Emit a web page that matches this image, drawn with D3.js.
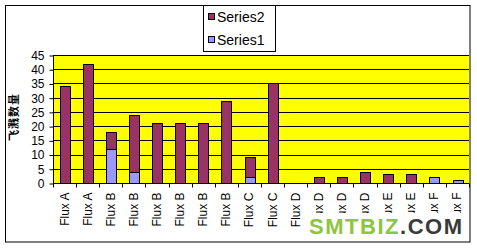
<!DOCTYPE html>
<html>
<head>
<meta charset="utf-8">
<script src="https://cdn.jsdelivr.net/npm/d3@7"></script>
<style>
  body { margin: 0; background: #fff; }
  svg { display: block; font-family: "Liberation Sans", Arial, sans-serif; }
</style>
</head>
<body>
<svg id="chart" width="477" height="249"></svg>
<script>
// chart data
const categories = ['Flux A', 'Flux A', 'Flux B', 'Flux B', 'Flux B', 'Flux B', 'Flux B', 'Flux B',
  'Flux C', 'Flux C', 'Flux D', 'Flux D', 'Flux D', 'Flux D', 'Flux E', 'Flux E', 'Flux F', 'Flux F'];
const series1 = [0, 0, 12, 4, 0, 0, 0, 0, 2, 0, 0, 0, 0, 0, 0, 0, 2, 1];
const series2 = [34, 42, 6, 20, 21, 21, 21, 29, 7, 35, 0, 2, 2, 4, 3, 3, 0, 0];
const yTicks = [0, 5, 10, 15, 20, 25, 30, 35, 40, 45];

const svg = d3.select('#chart');
const plotL = 53, plotR = 469, plotT = 55, plotB = 183;

const x = d3.scaleBand().domain(d3.range(categories.length)).range([plotL, plotR]).padding(0);
const y = d3.scaleLinear().domain([0, 45]).range([plotB, plotT]);
const barW = x.bandwidth() * 0.42;

// outer frame
svg.append('rect')
    .attr('x', 5.5).attr('y', 5.5).attr('width', 464.5).attr('height', 236.5)
    .style('fill', '#fff').style('stroke', '#000');

// plot area
svg.append('rect')
    .attr('x', plotL).attr('y', plotT).attr('width', plotR - plotL).attr('height', plotB - plotT)
    .style('fill', '#ffff00');

svg.selectAll('.grid').data(yTicks.filter(d => d > 0)).enter().append('line')
    .attr('class', 'grid')
    .attr('x1', plotL).attr('x2', plotR)
    .attr('y1', d => Math.round(y(d)) + 0.5).attr('y2', d => Math.round(y(d)) + 0.5)
    .style('stroke', '#000');

// stacked bars, Series1 at the bottom
const stacks = categories.map((c, i) => ({i: i, s1: series1[i], s2: series2[i]}));

svg.selectAll('.s1').data(stacks.filter(d => d.s1 > 0)).enter().append('rect')
    .attr('class', 's1')
    .attr('x', d => Math.round(x(d.i) + (x.bandwidth() - barW) / 2) + 0.5)
    .attr('y', d => Math.round(y(d.s1)) + 0.5)
    .attr('width', Math.round(barW))
    .attr('height', d => Math.round(y(0)) - Math.round(y(d.s1)))
    .style('fill', '#9999ff').style('stroke', '#000');

svg.selectAll('.s2').data(stacks.filter(d => d.s2 > 0)).enter().append('rect')
    .attr('class', 's2')
    .attr('x', d => Math.round(x(d.i) + (x.bandwidth() - barW) / 2) + 0.5)
    .attr('y', d => Math.round(y(d.s1 + d.s2)) + 0.5)
    .attr('width', Math.round(barW))
    .attr('height', d => Math.round(y(d.s1)) - Math.round(y(d.s1 + d.s2)))
    .style('fill', '#993366').style('stroke', '#000');

// y axis
const yAxis = svg.append('g')
    .attr('transform', `translate(${plotL + 0.5},0.5)`)
    .call(d3.axisLeft(y).tickValues(yTicks).tickSize(4).tickPadding(5));
yAxis.select('.domain').attr('d', `M0,${plotT}V${plotB}`);
yAxis.selectAll('text').style('font-size', '12px').style('fill', '#000');

// x axis, ticks on category boundaries
const xAxis = svg.append('g').attr('transform', `translate(0,${plotB + 0.5})`);
xAxis.append('line').attr('x1', plotL).attr('x2', plotR).style('stroke', '#000');
xAxis.selectAll('.xt').data(d3.range(categories.length + 1)).enter().append('line')
    .attr('class', 'xt')
    .attr('x1', d => Math.round(plotL + d * x.step()) + 0.5)
    .attr('x2', d => Math.round(plotL + d * x.step()) + 0.5)
    .attr('y1', 0).attr('y2', 4)
    .style('stroke', '#000');
xAxis.selectAll('.xl').data(categories).enter().append('text')
    .attr('class', 'xl')
    .attr('transform', (d, i) => `translate(${x(i) + x.bandwidth() / 2 + 4},9) rotate(-90)`)
    .attr('text-anchor', 'end')
    .style('font-size', '12px')
    .text(d => d);

// y title
svg.append('text')
    .attr('transform', 'translate(18,117) rotate(-90)')
    .attr('text-anchor', 'middle')
    .style('font-family', '"Noto Sans CJK SC", sans-serif')
    .style('font-weight', 'bold')
    .style('font-size', '11px')
    .style('letter-spacing', '1px')
    .text('飞溅数量');

// legend
const legend = svg.append('g');
legend.append('rect')
    .attr('x', 203.5).attr('y', 5.5).attr('width', 72).attr('height', 46)
    .style('fill', '#fff').style('stroke', '#000');
const legendItems = [{name: 'Series2', color: '#993366'}, {name: 'Series1', color: '#9999ff'}];
legendItems.forEach((d, i) => {
    legend.append('rect')
        .attr('x', 208.5).attr('y', 13.5 + i * 23).attr('width', 6).attr('height', 6)
        .style('fill', d.color).style('stroke', '#000');
    legend.append('text')
        .attr('x', 217).attr('y', 22 + i * 23)
        .style('font-size', '14px')
        .text(d.name);
});

// watermark
svg.append('rect').attr('x', 302).attr('y', 213).attr('width', 164).attr('height', 26).style('fill', '#fff');
const wm = svg.append('text')
    .attr('x', 309).attr('y', 234)
    .attr('textLength', 153)
    .style('font-size', '22px').style('font-weight', 'bold');
wm.append('tspan').style('fill', '#8cc63f').text('SMTBIZ');
wm.append('tspan').style('fill', '#3a3a3a').text('.COM');
</script>
</body>
</html>
